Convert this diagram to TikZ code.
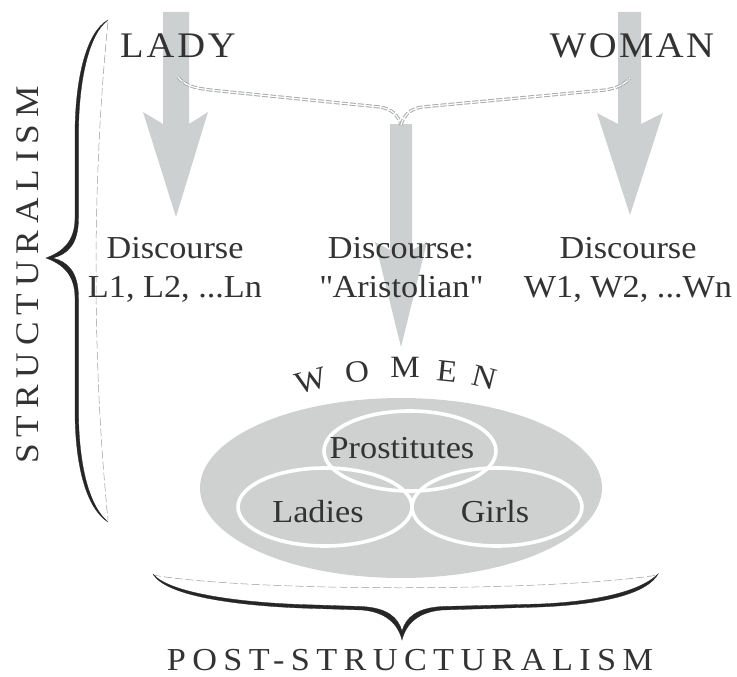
\documentclass[tikz,border=0pt]{standalone}
\usepackage{fontspec}
\setmainfont{Liberation Serif}[FakeStretch=1.07]
\definecolor{arrowgray}{HTML}{CDD0D0}
\definecolor{ellgray}{HTML}{CFD1D1}
\definecolor{txt}{HTML}{333333}
\definecolor{dashgray}{HTML}{A8ABAB}
\tikzset{
  lbl/.style={text=txt, inner sep=0pt, font=\fontsize{32}{39}\selectfont, align=center},
  caps/.style={text=txt, inner sep=0pt},
  bigarrow/.style={fill=arrowgray, draw=none},
  conn/.style={draw=dashgray, line width=1pt, double=white, double distance=1.2pt, dash pattern=on 6pt off 2pt},
  bracefill/.style={fill=black!85, draw=black!85, line width=0.3pt},
  braceghost/.style={draw=black!40, line width=0.5pt, dash pattern=on 8pt off 3pt},
  ring/.style={draw=white, line width=3.6pt},
}
\begin{document}
\begin{tikzpicture}[x=1pt,y=-1pt]
\useasboundingbox (0,0) rectangle (737,677);
% big arrows
\path[bigarrow] (163,12) -- (163,124) -- (143,112) -- (176,217) -- (208,112) -- (189,124) -- (189,12) -- cycle;
\path[bigarrow] (618,12) -- (618,124) -- (597,113) -- (630,215) -- (663,113) -- (641,124) -- (641,12) -- cycle;
\path[bigarrow] (390,124) -- (390,250) -- (375,242) -- (401,347) -- (427,242) -- (412,250) -- (412,124) -- cycle;
% dashed connector
\coordinate (ladyj) at (178,77);
\coordinate (womanj) at (630,78);
\coordinate (midj) at (401,125);
\draw[conn] (ladyj) .. controls (185,86) and (195,88) .. (210,90) -- (380,107) .. controls (392,109) and (398,115) .. (midj);
\draw[conn] (midj) .. controls (404,115) and (410,109) .. (422,107) -- (605,90) .. controls (618,88) and (625,84) .. (womanj);
% top labels
\node[caps, font=\fontsize{36}{40}\selectfont\addfontfeatures{LetterSpace=8}] (lady) at (178,46) {LADY};
\node[caps, font=\fontsize{36}{40}\selectfont\addfontfeatures{LetterSpace=7}] (woman) at (632,46) {WOMAN};
% discourse labels
\node[lbl, anchor=base] (dl) at (175,297) {Discourse\\L1, L2, ...Ln};
\node[lbl, anchor=base] (dm) at (401,297) {Discourse:\\\textquotedbl Aristolian\textquotedbl};
\node[lbl, anchor=base] (dr) at (628,297) {Discourse\\W1, W2, ...Wn};
% left brace
\draw[braceghost] (108,22) .. controls (92,180) and (92,360) .. (108,520);
\path[bracefill] (108,20) .. controls (86,32) and (75,80) .. (75,135) -- (75,218) .. controls (75,242) and (62,252) .. (46,258) .. controls (62,264) and (75,274) .. (75,298) -- (75,410) .. controls (75,465) and (86,508) .. (108,522)
  .. controls (89,506) and (78.5,465) .. (78.5,410) -- (78.5,298) .. controls (78.5,272) and (68,262) .. (53,258) .. controls (68,254) and (78.5,244) .. (78.5,218) -- (78.5,135) .. controls (78.5,80) and (89,34) .. (108,20) -- cycle;
\node[caps, rotate=90, font=\fontsize{33}{36}\selectfont\addfontfeatures{LetterSpace=21}] (struct) at (28,275) {STRUCTURALISM};
% bottom brace ghost line (behind ellipse)
\draw[braceghost] (153,575) .. controls (250,592) and (550,592) .. (658,575);
% women ellipse
\path[fill=ellgray] (401,488) ellipse [x radius=201, y radius=90];
\draw[ring] (410,451) ellipse [x radius=86, y radius=40];
\draw[ring] (325,507) ellipse [x radius=87, y radius=39];
\draw[ring] (497,507) ellipse [x radius=85, y radius=39];
\node[caps, font=\fontsize{32}{36}\selectfont] (prost) at (402,448) {Prostitutes};
\node[caps, font=\fontsize{32}{36}\selectfont] (ladies) at (318,512) {Ladies};
\node[caps, font=\fontsize{32}{36}\selectfont] (girls) at (495,512) {Girls};
% curved WOMEN
\node[caps, font=\fontsize{31}{32}\selectfont, rotate=15] (w1) at (311,381) {W};
\node[caps, font=\fontsize{31}{32}\selectfont, rotate=7] (w2) at (357,372) {O};
\node[caps, font=\fontsize{31}{32}\selectfont] (w3) at (405,367) {M};
\node[caps, font=\fontsize{31}{32}\selectfont, rotate=-6] (w4) at (447,371) {E};
\node[caps, font=\fontsize{31}{32}\selectfont, rotate=-14] (w5) at (485,378) {N};
% bottom brace
\path[bracefill] (153,574) .. controls (165,595) and (230,605) .. (300,608) -- (362,610) .. controls (386,612) and (398,624) .. (402,640) .. controls (406,624) and (418,612) .. (442,610) -- (540,607) .. controls (610,604) and (648,592) .. (658,574)
  .. controls (644,588) and (608,601) .. (540,604) -- (442,606.5) .. controls (417,608) and (406,617) .. (402,631) .. controls (398,617) and (387,608) .. (362,606.5) -- (300,604.5) .. controls (232,602) and (168,592) .. (153,574) -- cycle;
\node[caps, font=\fontsize{32}{36}\selectfont\addfontfeatures{LetterSpace=20}] (post) at (410,660) {POST-STRUCTURALISM};
\end{tikzpicture}
\end{document}
